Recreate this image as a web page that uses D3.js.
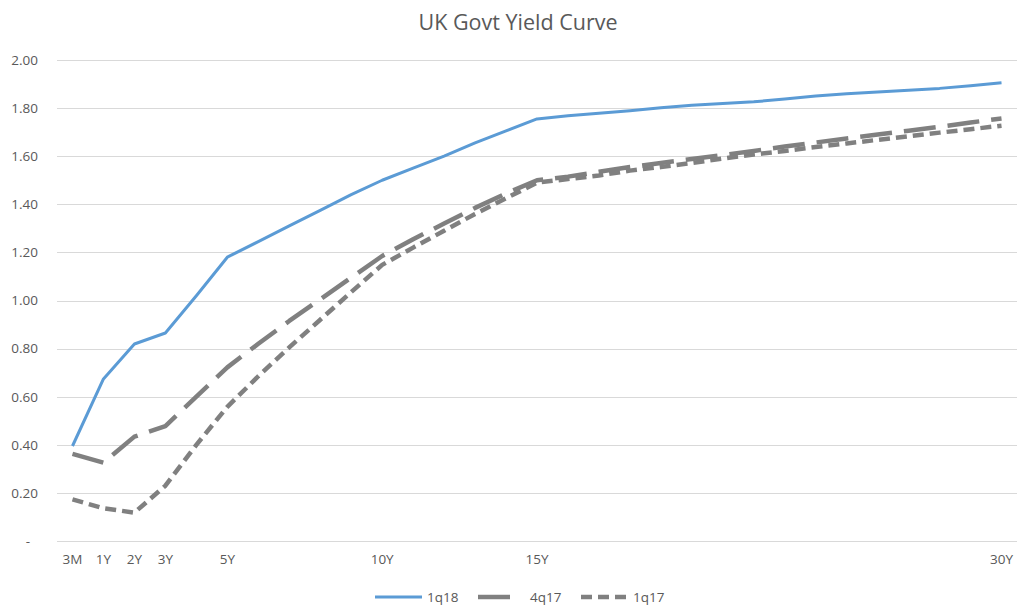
<!DOCTYPE html>
<html>
<head>
<meta charset="utf-8">
<script src="https://cdn.jsdelivr.net/npm/d3@7"></script>
<style>
  html, body { margin: 0; padding: 0; background: #fff; }
  svg { display: block; font-family: "Open Sans", "Noto Sans", sans-serif; }
</style>
</head>
<body>
<svg id="chart" width="1019" height="605"></svg>
<script>
// Maturities: 3 months, then every year out to 30 years
const maturities = ["3M"].concat(d3.range(1, 31).map(y => y + "Y"));
const labelledMaturities = ["3M", "1Y", "2Y", "3Y", "5Y", "10Y", "15Y", "30Y"];

const yTicks = [0, 0.2, 0.4, 0.6, 0.8, 1.0, 1.2, 1.4, 1.6, 1.8, 2.0];

// Gilt yields (%) per maturity
const yields1q18 = [0.395, 0.674, 0.819, 0.865, 1.02, 1.18, 1.245, 1.31, 1.375, 1.44, 1.50,
  1.55, 1.60, 1.655, 1.705, 1.755, 1.768, 1.779, 1.789, 1.801, 1.812, 1.819, 1.826,
  1.838, 1.850, 1.860, 1.867, 1.874, 1.882, 1.893, 1.905];
const yields4q17 = [0.362, 0.326, 0.434, 0.478, 0.60, 0.722, 0.82, 0.915, 1.005, 1.095, 1.185,
  1.255, 1.32, 1.385, 1.445, 1.50, 1.515, 1.535, 1.555, 1.572, 1.588, 1.605, 1.622,
  1.640, 1.657, 1.674, 1.690, 1.706, 1.722, 1.740, 1.757];
const yields1q17 = [0.173, 0.136, 0.118, 0.23, 0.40, 0.558, 0.685, 0.805, 0.92, 1.035, 1.148,
  1.22, 1.29, 1.36, 1.425, 1.49, 1.505, 1.52, 1.54, 1.555, 1.572, 1.59, 1.607,
  1.622, 1.638, 1.653, 1.668, 1.683, 1.698, 1.712, 1.727];

const seriesNames = ["1q18", "4q17", "1q17"];
const seriesValues = [yields1q18, yields4q17, yields1q17];
const seriesStyle = {
  "1q18": { color: "#5B9BD5", width: 3, dash: null },
  "4q17": { color: "#808080", width: 4.5, dash: "32,12" },
  "1q17": { color: "#808080", width: 4.5, dash: "11,6" }
};

const svg = d3.select("#chart");
const plot = { left: 57, right: 1017, top: 60, bottom: 541 };

const x = d3.scaleBand().domain(maturities).range([plot.left, plot.right]);
const y = d3.scaleLinear().domain([0, 2]).range([plot.bottom, plot.top]);
const xc = m => x(m) + x.bandwidth() / 2;

// Title
svg.append("text")
  .attr("x", 518).attr("y", 30)
  .attr("text-anchor", "middle")
  .attr("font-size", 21.5)
  .attr("fill", "#595959")
  .text("UK Govt Yield Curve");

// Horizontal gridlines
svg.append("g")
  .selectAll("line")
  .data(yTicks)
  .join("line")
  .attr("x1", plot.left).attr("x2", plot.right)
  .attr("y1", d => Math.round(y(d)) + 0.5).attr("y2", d => Math.round(y(d)) + 0.5)
  .attr("stroke", "#D9D9D9").attr("stroke-width", 1);

// Y axis labels (accounting style: zero shown as a dash)
const yAxis = d3.axisLeft(y).tickValues(yTicks)
  .tickSize(0).tickPadding(0)
  .tickFormat(d => d === 0 ? "-" : d3.format(".2f")(d));
const gy = svg.append("g").attr("transform", `translate(${plot.left - 19},0)`).call(yAxis);
gy.select(".domain").remove();
gy.selectAll("text")
  .attr("font-size", 13.5)
  .attr("fill", "#595959")
  .attr("font-family", "\"Open Sans\", \"Noto Sans\", sans-serif")
  .attr("dx", d => d === 0 ? -8 : 0);

// X axis labels at selected maturities
const xAxis = d3.axisBottom(x).tickValues(labelledMaturities).tickSize(0).tickPadding(0);
const gx = svg.append("g").attr("transform", `translate(0,${plot.bottom + 13})`).call(xAxis);
gx.select(".domain").remove();
gx.selectAll("text")
  .attr("font-size", 13.5)
  .attr("fill", "#595959")
  .attr("font-family", "\"Open Sans\", \"Noto Sans\", sans-serif");

// Yield curves
const line = d3.line().x((d, i) => xc(maturities[i])).y(d => y(d));
const lines = svg.append("g");
seriesNames.slice().reverse().forEach(name => {
  const vals = seriesValues[seriesNames.indexOf(name)];
  const st = seriesStyle[name];
  lines.append("path")
    .datum(vals)
    .attr("d", line)
    .attr("fill", "none")
    .attr("stroke", st.color)
    .attr("stroke-width", st.width)
    .attr("stroke-linejoin", "round")
    .attr("stroke-dasharray", st.dash);
});

// Legend
const legendItems = [
  { name: "1q18", x0: 375 },
  { name: "4q17", x0: 478 },
  { name: "1q17", x0: 581 }
];
const lg = svg.append("g");
legendItems.forEach(it => {
  const st = seriesStyle[it.name];
  const len = it.name === "4q17" ? 34 : 47;
  lg.append("line")
    .attr("x1", it.x0).attr("x2", it.x0 + len)
    .attr("y1", 597).attr("y2", 597)
    .attr("stroke", st.color)
    .attr("stroke-width", st.width)
    .attr("stroke-dasharray", st.dash);
  lg.append("text")
    .attr("x", it.x0 + 52)
    .attr("y", 602)
    .attr("font-size", 13.5)
    .attr("fill", "#595959")
    .text(it.name);
});
</script>
</body>
</html>
